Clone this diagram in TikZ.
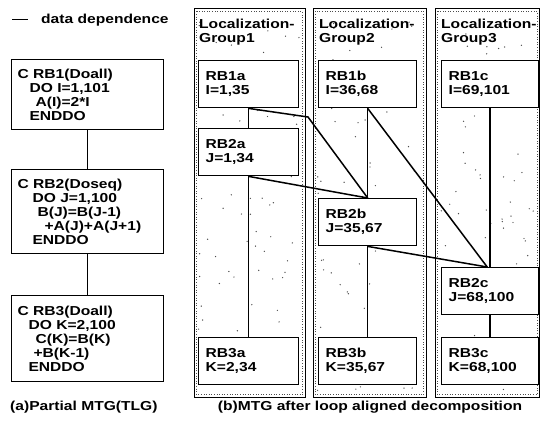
\documentclass[tikz,border=0pt]{standalone}
\usepackage{fontspec}
\newfontfamily\hb{Liberation Sans}[FakeStretch=1.2]
\begin{document}
\begin{tikzpicture}[x=1pt,y=-1pt,
  every node/.style={font=\hb\bfseries\fontsize{13}{14}\selectfont},
  code/.style={draw,fill=white,line width=1.1pt,anchor=north west,minimum width=152pt,text width=140pt,inner xsep=6pt,inner ysep=0pt,align=left},
  rb/.style={draw,fill=white,line width=1.4pt,anchor=north west,minimum height=47pt,text width=#1,inner xsep=7pt,inner ysep=0pt,align=left},
  grpout/.style={draw=black,line width=1pt},
  grpin/.style={draw=black!70,line width=0.6pt,dotted},
  dep/.style={line width=1.5pt},
  stip/.style={fill=black!70}
]
\useasboundingbox (0,0) rectangle (541,425);
% legend
\coordinate (l1) at (12,20);
\coordinate (l2) at (28,20);
\draw[line width=1pt] (l1) -- (l2);
\node[anchor=west,inner sep=0pt] (leg) at (41,20) {data dependence};
% (a)
\node[code,minimum height=70pt] (rb1) at (11,59)
 {C RB1(Doall)\\\hspace*{12pt}DO I=1,101\\\hspace*{18pt}A(I)=2*I\\\hspace*{12pt}ENDDO};
\node[code,minimum height=84pt] (rb2) at (11,169)
 {C RB2(Doseq)\\\hspace*{15pt}DO J=1,100\\\hspace*{20pt}B(J)=B(J-1)\\\hspace*{27pt}+A(J)+A(J+1)\\\hspace*{15pt}ENDDO};
\node[code,minimum height=86pt] (rb3) at (11,295)
 {C RB3(Doall)\\\hspace*{11pt}DO K=2,100\\\hspace*{18pt}C(K)=B(K)\\\hspace*{16pt}+B(K-1)\\\hspace*{11pt}ENDDO};
\draw[line width=1.2pt] (rb1) -- (rb2);
\draw[line width=1.2pt] (rb2) -- (rb3);
\node[anchor=west,inner sep=0pt] (capa) at (10,407) {(a)Partial MTG(TLG)};
% (b) groups
\draw[grpout] (194,9) rectangle (305,397);
\draw[grpin] (196.5,11.5) rectangle (302.5,394.5);
\draw[grpout] (313,9) rectangle (426,397);
\draw[grpin] (315.5,11.5) rectangle (423.5,394.5);
\draw[grpout] (435,9) rectangle (539.5,397);
\draw[grpin] (437.5,11.5) rectangle (537,394.5);
\pgfmathsetseed{11}
\foreach \i in {1,...,70} {\fill[stip] ({198+rnd*102},{20+rnd*372}) circle (0.7pt);}
\foreach \i in {1,...,70} {\fill[stip] ({317+rnd*104},{20+rnd*372}) circle (0.7pt);}
\foreach \i in {1,...,70} {\fill[stip] ({439+rnd*96},{20+rnd*372}) circle (0.7pt);}
\node[anchor=north west,align=left,inner sep=0pt] (g1t) at (199,19) {Localization-\\Group1};
\node[anchor=north west,align=left,inner sep=0pt] (g2t) at (319,19) {Localization-\\Group2};
\node[anchor=north west,align=left,inner sep=0pt] (g3t) at (441,19) {Localization-\\Group3};
% boxes
\node[rb=86pt]  (rb1a) at (198,60) {RB1a\\I=1,35};
\node[rb=84pt]  (rb1b) at (318,60) {RB1b\\I=36,68};
\node[rb=83pt]  (rb1c) at (441,60) {RB1c\\I=69,101};
\node[rb=86pt]  (rb2a) at (198,128) {RB2a\\J=1,34};
\node[rb=84pt]  (rb2b) at (318,198) {RB2b\\J=35,67};
\node[rb=83pt]  (rb2c) at (441,267) {RB2c\\J=68,100};
\node[rb=86pt]  (rb3a) at (198,337) {RB3a\\K=2,34};
\node[rb=84pt]  (rb3b) at (318,337) {RB3b\\K=35,67};
\node[rb=83pt]  (rb3c) at (441,337) {RB3c\\K=68,100};
% dependences
\coordinate (bend) at (308,117);
\coordinate (m2c) at ([xshift=-3pt]rb2c.north);
\draw[dep] (rb1a.south) -- (rb2a.north);
\draw[dep] (rb2a.south) -- (rb3a.north);
\draw[dep] (rb1a.south) -- (bend) -- (rb2b.north);
\draw[dep] (rb2a.south) -- (rb2b.north);
\draw[dep] (rb1b.south) -- (rb2b.north);
\draw[dep] (rb1b.south) -- (m2c);
\draw[dep] (rb2b.south) -- (m2c);
\draw[dep] (rb2b.south) -- (rb3b.north);
\draw[dep] (rb1c.south) -- (rb2c.north);
\draw[dep] (rb2c.south) -- (rb3c.north);
\node[anchor=center,inner sep=0pt] (capb) at (370,407) {(b)MTG after loop aligned decomposition};
\end{tikzpicture}
\end{document}
